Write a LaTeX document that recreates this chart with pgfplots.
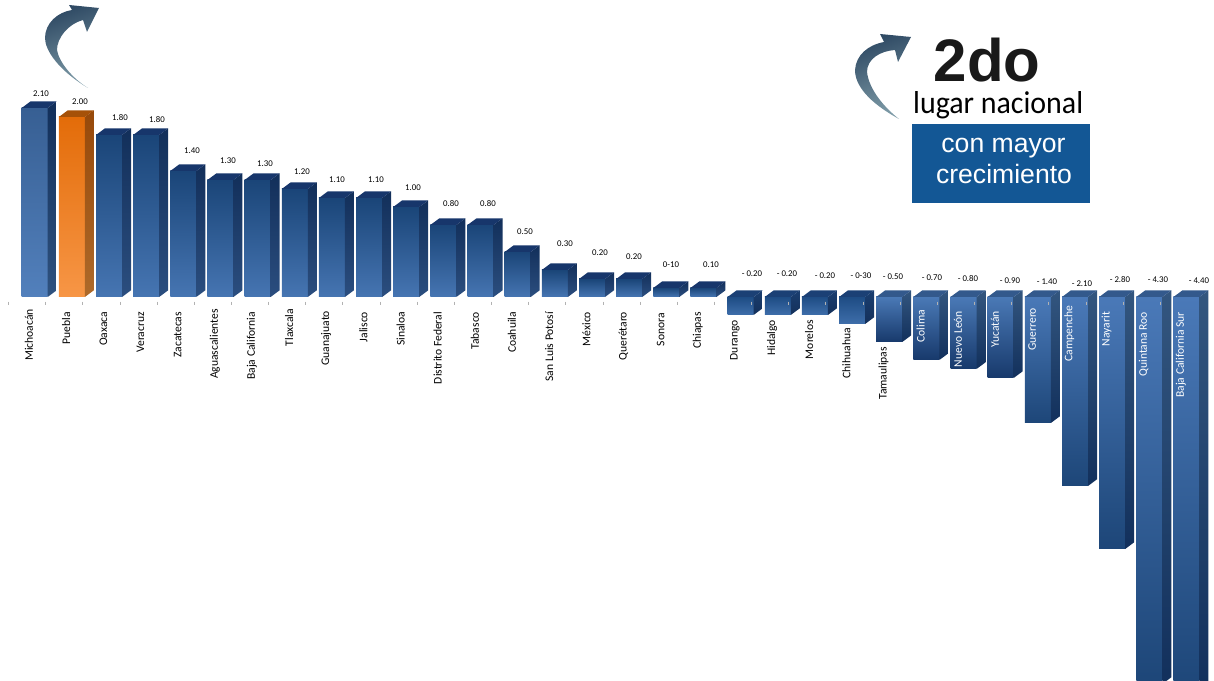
\documentclass[border=0pt]{standalone}
\usepackage{fontspec}
\setmainfont{Carlito}
\newfontfamily\arialf{Liberation Sans}
\newfontfamily\humanist{Carlito}
\usepackage{pgfplots}
\pgfplotsset{compat=1.18}
\definecolor{c1t}{HTML}{1A4578}\definecolor{c1b}{HTML}{4675B2}
\definecolor{c1st}{HTML}{122F5A}\definecolor{c1sb}{HTML}{2B4E7F}\definecolor{c1f}{HTML}{17366B}
\definecolor{c0t}{HTML}{375F93}\definecolor{c0b}{HTML}{5280BC}
\definecolor{c2t}{HTML}{E36C09}\definecolor{c2b}{HTML}{F79646}
\definecolor{c2st}{HTML}{97490A}\definecolor{c2sb}{HTML}{AE6A2A}\definecolor{c2f}{HTML}{A65108}
\definecolor{c3t}{HTML}{1E4C84}\definecolor{c3b}{HTML}{3E6EAA}
\definecolor{c3st}{HTML}{1A3E70}\definecolor{c3sb}{HTML}{14305A}\definecolor{c3f}{HTML}{1B4075}
\definecolor{c4t}{HTML}{4A79B6}\definecolor{c4b}{HTML}{17396B}
\definecolor{c4st}{HTML}{33567F}\definecolor{c4sb}{HTML}{12305C}\definecolor{c4f}{HTML}{33598C}
\definecolor{c5t}{HTML}{4A79B8}\definecolor{c5b}{HTML}{1D4678}
\definecolor{c0st}{HTML}{122F5A}\definecolor{c0sb}{HTML}{2F527F}\definecolor{c0f}{HTML}{17366B}
\colorlet{c5st}{c4st}\colorlet{c5sb}{c4sb}\colorlet{c5f}{c4f}
\definecolor{arrowd}{HTML}{2F4A64}\definecolor{arrowl}{HTML}{7F9CA8}
\newcommand\tdbar[6]{%
 \pgfmathsetmacro\xc{#1+0.1534}%
 \pgfmathsetmacro\xl{\xc-13/37.155}%
 \pgfmathsetmacro\xr{\xc+13/37.155}%
 \pgfmathsetmacro\xd{\xr+9/37.155}%
 \pgfmathsetmacro\xe{\xl+9/37.155}%
 \pgfmathsetmacro\tp{max(#2,0)}%
 \pgfmathsetmacro\tq{\tp+6.7/90}%
 \pgfmathsetmacro\bt{min(#2,0)}%
 \pgfmathsetmacro\bq{\bt+6.7/90}%
 \pgfmathsetmacro\lx{(#3-29)/37.155}%
 \pgfmathsetmacro\ly{(297-#4)/90}%
 \edef\tmp{%
  \noexpand\addplot[ybar,bar shift=0pt,bar width=26pt,draw=none,top color=c#6t,bottom color=c#6b,forget plot] coordinates {(\xc,#2)};
  \noexpand\addplot[draw=none,top color=c#6st,bottom color=c#6sb,forget plot] coordinates {(\xr,\bt) (\xr,\tp) (\xd,\tq) (\xd,\bq) (\xr,\bt)};
  \noexpand\addplot[draw=none,fill=c#6f,forget plot] coordinates {(\xl,\tp) (\xr,\tp) (\xd,\tq) (\xe,\tq) (\xl,\tp)};
  \noexpand\node[font=\noexpand\fontsize{8.8}{10}\noexpand\selectfont,text=black,inner sep=0pt] at (axis cs:\lx,\ly) {#5};
 }\tmp}
\newcommand\TL[2]{#2\hspace*{#1pt}}
\newcommand\WL[2]{\textcolor{white}{#2}\hspace*{#1pt}}
\begin{document}
\begin{tikzpicture}[x=1pt,y=1pt]
\useasboundingbox (0,0) rectangle (1214,680);
\begin{axis}[at={(0,0)},anchor=south west,scale only axis,width=1214pt,height=680pt,
 xmin=-0.7805,xmax=31.894,ymin=-4.2556,ymax=3.3,
 axis x line*=middle,axis y line=none,axis on top=true,
 x axis line style={draw=none},
 major tick length=0pt,minor tick length=0pt,
 xtick={0,...,31},
 xticklabels={\TL{0}{Michoacán},\TL{3}{Puebla},\TL{3}{Oaxaca},\TL{3}{Veracruz},\TL{3}{Zacatecas},\TL{0}{Aguascalientes},\TL{3}{Baja California},\TL{0}{Tlaxcala},\TL{2}{Guanajuato},\TL{3}{Jalisco},\TL{3}{Sinaloa},\TL{3}{Distrito Federal},\TL{3}{Tabasco},\TL{3}{Coahuila},\TL{3}{San Luis Potosí},\TL{3}{México},\TL{3}{Querétaro},\TL{4}{Sonora},\TL{3}{Chiapas},\TL{11}{Durango},\TL{11}{Hidalgo},\TL{11}{Morelos},\TL{19}{Chihuahua},\TL{38}{Tamaulipas},\WL{1}{Colima},\WL{2}{Nuevo León},\WL{2}{Yucatán},\WL{-1}{Guerrero},\WL{-3}{Campenche},\WL{3}{Nayarit},\WL{3}{Quintana Roo},\WL{3}{Baja California Sur}},
 xticklabel style={rotate=90,anchor=east,inner sep=0pt,outer sep=0pt,xshift=-12pt,font=\fontsize{11.6}{12}\selectfont,text=black},
 clip=true]
\tdbar{0}{2.10}{41}{94}{2.10}{0}
\tdbar{1}{2.00}{80}{102}{2.00}{2}
\tdbar{2}{1.80}{120}{118}{1.80}{1}
\tdbar{3}{1.80}{157}{120}{1.80}{1}
\tdbar{4}{1.40}{192}{151}{1.40}{1}
\tdbar{5}{1.30}{228}{161}{1.30}{1}
\tdbar{6}{1.30}{265}{164}{1.30}{1}
\tdbar{7}{1.20}{302}{172}{1.20}{1}
\tdbar{8}{1.10}{337}{180}{1.10}{1}
\tdbar{9}{1.10}{376}{180}{1.10}{1}
\tdbar{10}{1.00}{413}{188}{1.00}{1}
\tdbar{11}{0.80}{451}{204}{0.80}{1}
\tdbar{12}{0.80}{488}{204}{0.80}{1}
\tdbar{13}{0.50}{525}{232}{0.50}{1}
\tdbar{14}{0.30}{565}{244}{0.30}{1}
\tdbar{15}{0.20}{600}{253}{0.20}{1}
\tdbar{16}{0.20}{634}{257}{0.20}{1}
\tdbar{17}{0.10}{671}{265}{0-10}{1}
\tdbar{18}{0.10}{711}{265}{0.10}{1}
\tdbar{19}{-0.20}{752}{274}{- 0.20}{3}
\tdbar{20}{-0.20}{787}{274}{- 0.20}{3}
\tdbar{21}{-0.20}{825}{276}{- 0.20}{3}
\tdbar{22}{-0.30}{861}{276}{- 0-30}{3}
\tdbar{23}{-0.50}{893}{277}{- 0.50}{4}
\tdbar{24}{-0.70}{932}{278}{- 0.70}{4}
\tdbar{25}{-0.80}{968}{279}{- 0.80}{4}
\tdbar{26}{-0.90}{1010}{281}{- 0.90}{4}
\tdbar{27}{-1.40}{1047}{282}{- 1.40}{5}
\tdbar{28}{-2.10}{1082}{284}{- 2.10}{5}
\tdbar{29}{-2.80}{1120}{280}{- 2.80}{5}
\tdbar{30}{-4.30}{1158}{280}{- 4.30}{5}
\tdbar{31}{-4.40}{1199}{281}{- 4.40}{5}
\addplot[only marks,mark=|,mark size=1.7pt,color=gray!60,forget plot] coordinates {(-0.557,-0.07)(0.443,-0.07)(1.443,-0.07)(2.443,-0.07)(3.443,-0.07)(4.443,-0.07)(5.443,-0.07)(6.443,-0.07)(7.443,-0.07)(8.443,-0.07)(9.443,-0.07)(10.443,-0.07)(11.443,-0.07)(12.443,-0.07)(13.443,-0.07)(14.443,-0.07)(15.443,-0.07)(16.443,-0.07)(17.443,-0.07)(18.443,-0.07)(19.443,-0.07)(20.443,-0.07)(21.443,-0.07)(22.443,-0.07)(23.443,-0.07)(24.443,-0.07)(25.443,-0.07)(26.443,-0.07)(27.443,-0.07)(28.443,-0.07)(29.443,-0.07)(30.443,-0.07)};
\end{axis}
% curved arrows
\shade[left color=arrowd,right color=arrowl,shading angle=20]
 (88,592) .. controls (58,610) and (45,630) .. (45,642)
 .. controls (45,657) and (58,668) .. (72,670)
 -- (69,675) -- (99,672) -- (87,648) -- (83,660)
 .. controls (68,656) and (57,642) .. (57,630)
 .. controls (59,618) and (72,602) .. (88,592) -- cycle;
\shade[left color=arrowd,right color=arrowl,shading angle=20]
 (899,561) .. controls (868,578) and (855,595) .. (855,610)
 .. controls (856,625) and (868,635) .. (884,638)
 -- (880,646) -- (911,643) -- (898,618) -- (895,630)
 .. controls (880,629) and (867,621) .. (867,608)
 .. controls (869,590) and (885,572) .. (899,561) -- cycle;
\node[anchor=base,inner sep=0pt,font=\arialf\bfseries\fontsize{60}{60}\selectfont,text=black!90] at (987,598) {2do};
\node[anchor=base west,inner sep=0pt] at (913,566) {\resizebox{170pt}{22pt}{\humanist\fontsize{30}{30}\selectfont lugar nacional}};
\fill[fill={rgb,255:red,19;green,87;blue,149}] (912,477) rectangle (1090,556);
\node[anchor=base,inner sep=0pt,text=white,font=\arialf\fontsize{26.6}{26.6}\selectfont] at (1003.5,527) {con mayor};
\node[anchor=base,inner sep=0pt,text=white,font=\arialf\fontsize{26.6}{26.6}\selectfont] at (1004,496) {crecimiento};
\end{tikzpicture}
\end{document}
